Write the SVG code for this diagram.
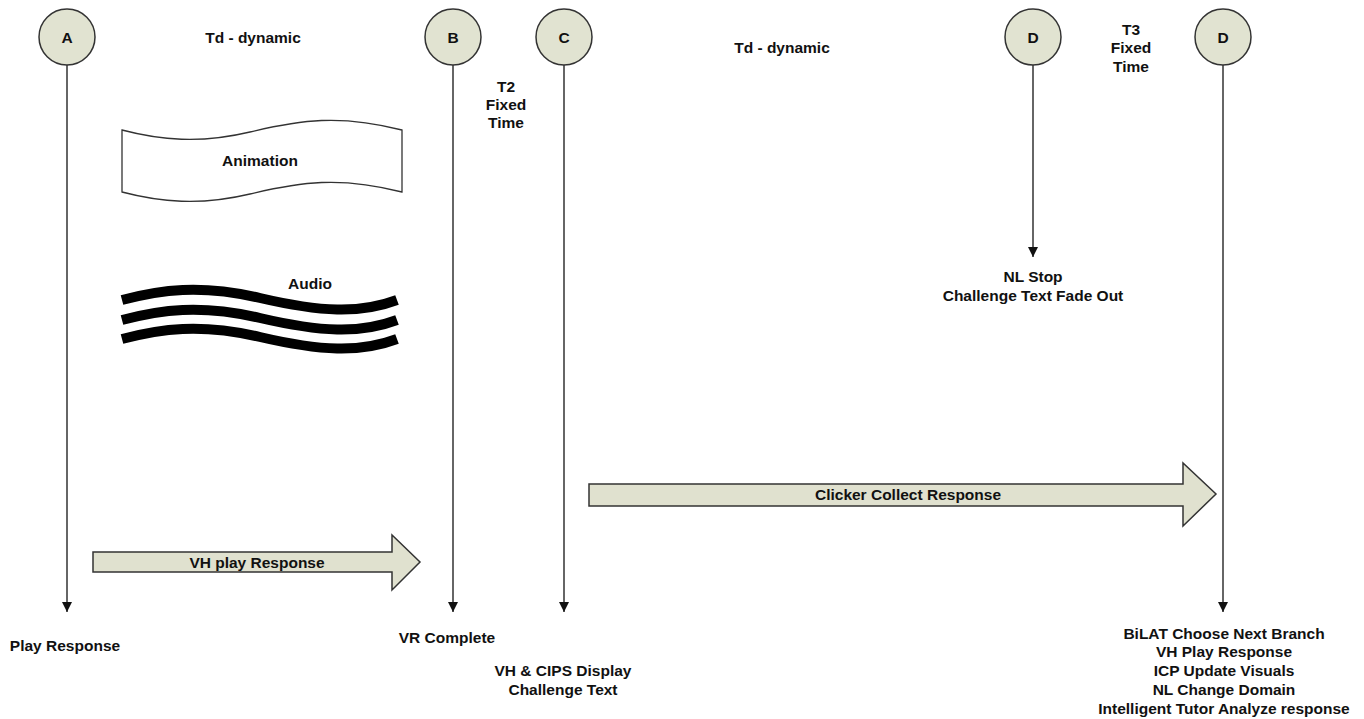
<svg xmlns="http://www.w3.org/2000/svg" width="1364" height="719" viewBox="0 0 1364 719">
<style>
text{font-family:"Liberation Sans",Arial,sans-serif;font-weight:bold;font-size:15.5px;fill:#111;text-anchor:middle;dominant-baseline:central}
.node circle{fill:#e1e3d1;stroke:#333;stroke-width:1.5}
.conn line{stroke:#333;stroke-width:1.5}
.band{fill:#e0e1cf;stroke:#333;stroke-width:1.5}
.wave{fill:none;stroke:#000;stroke-width:10}
</style>
<defs>
<marker id="ah" viewBox="0 0 10 10" refX="10" refY="5" markerWidth="10" markerHeight="10" markerUnits="userSpaceOnUse" orient="auto">
<path d="M0,0 L10,5 L0,10 z" fill="#111"/>
</marker>
</defs>
<g class="conn" id="connectors">
<line x1="67" y1="65" x2="67" y2="612" marker-end="url(#ah)"/>
<line x1="453" y1="65" x2="453" y2="612" marker-end="url(#ah)"/>
<line x1="564" y1="65" x2="564" y2="612" marker-end="url(#ah)"/>
<line x1="1033" y1="65" x2="1033" y2="257" marker-end="url(#ah)"/>
<line x1="1223" y1="65" x2="1223" y2="612" marker-end="url(#ah)"/>
</g>
<g class="node" id="nodeA"><circle cx="67" cy="37" r="28"/><text x="67" y="37">A</text></g>
<g class="node" id="nodeB"><circle cx="453" cy="37" r="28"/><text x="453" y="37">B</text></g>
<g class="node" id="nodeC"><circle cx="564" cy="37" r="28"/><text x="564" y="37">C</text></g>
<g class="node" id="nodeD1"><circle cx="1033" cy="37" r="28"/><text x="1033" y="37">D</text></g>
<g class="node" id="nodeD2"><circle cx="1223" cy="37" r="28"/><text x="1223" y="37">D</text></g>
<g id="animation">
<path d="M122,130 C160,140 200,144 250,132 C300,120 340,114 402,130 L402,192 C340,176 300,182 250,194 C200,206 160,202 122,192 Z" fill="#fff" stroke="#333" stroke-width="1.3"/>
<text x="260" y="160">Animation</text>
</g>
<g id="audio">
<path class="wave" d="M122,300 C160,290 200,284 260,298 C320,312 360,314 397,300"/>
<path class="wave" d="M122,320 C160,310 200,304 260,318 C320,332 360,334 397,320"/>
<path class="wave" d="M122,339 C160,329 200,323 260,337 C320,351 360,353 397,339"/>
<text x="310" y="283">Audio</text>
</g>
<g id="vhPlay">
<path class="band" d="M93,552 L392,552 L392,535 L420,562 L392,590 L392,572 L93,572 Z"/>
<text x="257" y="562">VH play Response</text>
</g>
<g id="clicker">
<path class="band" d="M589,484 L1183,484 L1183,463 L1216,494 L1183,526 L1183,506 L589,506 Z"/>
<text x="908" y="494">Clicker Collect Response</text>
</g>
<g id="labels">
<text x="253" y="37">Td - dynamic</text>
<text x="782" y="47">Td - dynamic</text>
<text x="506" y="86">T2</text>
<text x="506" y="104">Fixed</text>
<text x="506" y="122">Time</text>
<text x="1131" y="29">T3</text>
<text x="1131" y="47">Fixed</text>
<text x="1131" y="66">Time</text>
<text x="1033" y="276">NL Stop</text>
<text x="1033" y="295">Challenge Text Fade Out</text>
<text x="65" y="645">Play Response</text>
<text x="447" y="637">VR Complete</text>
<text x="563" y="670">VH &amp; CIPS Display</text>
<text x="563" y="689">Challenge Text</text>
<text x="1224" y="633">BiLAT Choose Next Branch</text>
<text x="1224" y="651">VH Play Response</text>
<text x="1224" y="670">ICP Update Visuals</text>
<text x="1224" y="689">NL Change Domain</text>
<text x="1224" y="708">Intelligent Tutor Analyze response</text>
</g>
</svg>
